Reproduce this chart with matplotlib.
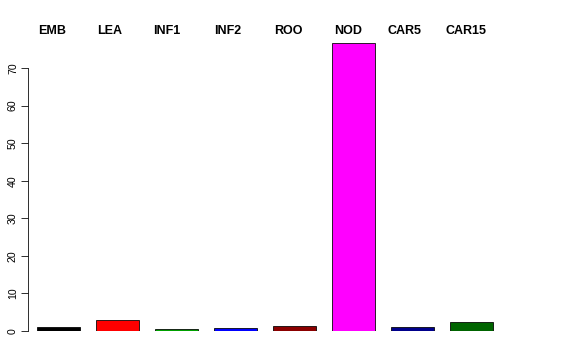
import numpy as np
import matplotlib
matplotlib.use('Agg')
import matplotlib.pyplot as plt

tissues = ['EMB', 'LEA', 'INF1', 'INF2', 'ROO', 'NOD', 'CAR5', 'CAR15']
values = [1.05, 2.9, 0.6, 0.8, 1.2, 76.6, 1.15, 2.4]
colors = ['black', 'red', '#00a000', 'blue', '#8b0000', 'magenta', '#00008b', '#006400']
# label positions (in bar units), the labels sit a bit left of the bars
label_pos = [-0.10, 0.86, 1.84, 2.87, 3.89, 4.91, 5.86, 6.91]
yticks = [0, 10, 20, 30, 40, 50, 60, 70]

plt.rcParams['font.family'] = ['Liberation Sans', 'DejaVu Sans']

W, H = 576, 360
fig = plt.figure(figsize=(W / 72, H / 72), dpi=72)
left, right = 28, 548
bottom, top = 331, 30
ax = fig.add_axes([left / W, 1 - bottom / H, (right - left) / W, (bottom - top) / H])

x = np.arange(len(tissues))
ax.bar(x, values, width=0.712, color=colors, edgecolor='black', linewidth=0.8)

ax.set_xlim((left - 58.5) / 59, (right - 58.5) / 59)
ax.set_ylim(0, (bottom - top) / (263 / 70))

for s in ['top', 'right', 'bottom']:
    ax.spines[s].set_visible(False)
ax.spines['left'].set_bounds(0, 70)
ax.spines['left'].set_linewidth(0.8)
ax.set_xticks([])
ax.set_yticks(yticks)
ax.set_yticklabels([str(t) for t in yticks], rotation=90, va='center', fontsize=10.5)
ax.tick_params(axis='y', length=7, width=0.8, pad=3)

for p, name in zip(label_pos, tissues):
    ax.text(p, 1 - (30.5 - top) / (bottom - top), name, transform=ax.get_xaxis_transform(),
            ha='center', va='center', fontsize=12.5, fontweight='bold', clip_on=False)

fig.savefig('out.png', dpi=72)
